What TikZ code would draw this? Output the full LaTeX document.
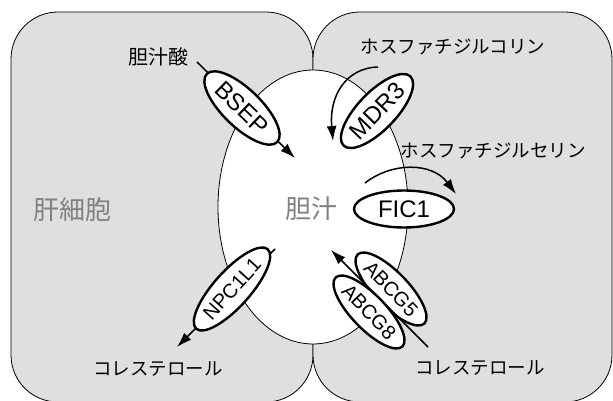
\documentclass[tikz,border=0pt]{standalone}
\usepackage{fontspec}
\setmainfont{Liberation Sans}
\newfontfamily\jp{Noto Sans CJK JP}
\usetikzlibrary{arrows.meta,shapes.geometric}
\definecolor{cellfill}{RGB}{222,223,225}
\definecolor{txtgray}{RGB}{128,128,128}
\begin{document}
\begin{tikzpicture}[x=1pt,y=-1pt,
  cell/.style={fill=cellfill,draw=black,line width=0.8pt,rounded corners=47pt},
  prot/.style={ellipse,draw=black,fill=white,line width=2.4pt,inner sep=0pt,font=\fontsize{24}{24}\selectfont},
  smallprot/.style={prot,font=\fontsize{20}{20}\selectfont},
  arr/.style={line width=1.5pt,-{Latex[length=15pt,width=10pt]}},
  lab/.style={font=\jp\fontsize{18.5}{18.5}\selectfont,inner sep=0pt},
  biglab/.style={font=\jp\fontsize{26}{26}\selectfont,text=txtgray,inner sep=0pt}]
\useasboundingbox (0,0) rectangle (613,401);
% cells
\draw[cell] (11,12) rectangle (313,402);
\draw[cell] (313,12) rectangle (612,402);
% bile canaliculus
\node[ellipse,draw=black,fill=white,line width=0.8pt,minimum width=190pt,minimum height=274pt,inner sep=0pt] (bile) at (313,207) {};
% labels
\node[biglab] (hep) at (72,210) {肝細胞};
\node[biglab] (bilelab) at (311,209) {胆汁};
\node[lab,font=\jp\fontsize{20}{20}\selectfont] (ba) at (158,57) {胆汁酸};
\node[lab] (pc) at (453,47) {ホスファチジルコリン};
\node[lab] (ps) at (493,151) {ホスファチジルセリン};
\node[lab] (cholL) at (158,369) {コレステロール};
\node[lab] (cholR) at (480,368) {コレステロール};
% straight transport arrows behind proteins
\coordinate (bsepA) at (197,62);
\coordinate (bsepB) at (295,158);
\draw[arr] (bsepA) -- (bsepB);
\coordinate (npcA) at (275,249);
\coordinate (npcB) at (177,347);
\draw[arr] (npcA) -- (npcB);
% curved arrows
\coordinate (mdrA) at (378,67);
\coordinate (mdrB) at (333,141);
\draw[arr] (mdrA) .. controls (345,68) and (329,97) .. (mdrB);
\coordinate (ficA) at (365,183);
\coordinate (ficB) at (456,194);
\draw[arr] (ficA) .. controls (392,162) and (432,162) .. (ficB);
% proteins
\node[prot,rotate=-44,minimum width=98pt,minimum height=38pt] (bsep) at (242,108) {BSEP};
\node[prot,rotate=46,minimum width=92pt,minimum height=38pt] (mdr3) at (377,111) {MDR3};
\node[prot,minimum width=100pt,minimum height=37pt] (fic1) at (404,209) {FIC1};
\node[smallprot,rotate=48,minimum width=98pt,minimum height=36pt] (npc) at (232,289) {NPC1L1};
\node[smallprot,rotate=-46,minimum width=96pt,minimum height=34pt] (abcg5) at (391,289) {ABCG5};
\node[smallprot,rotate=-46,minimum width=96pt,minimum height=34pt] (abcg8) at (369,312) {ABCG8};
\coordinate (abcA) at (428,347);
\coordinate (abcB) at (331,250);
\draw[arr] (abcA) -- (abcB);
\end{tikzpicture}
\end{document}
